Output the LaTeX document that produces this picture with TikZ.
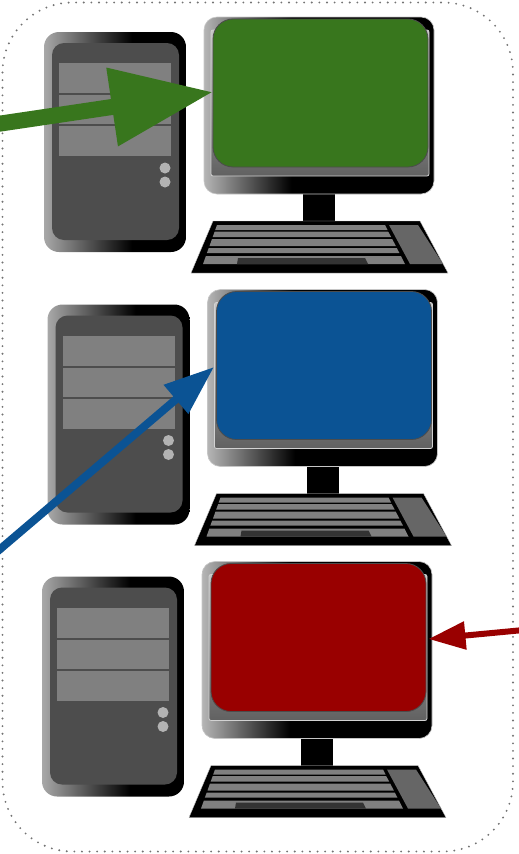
\documentclass[tikz,border=0pt]{standalone}
\usetikzlibrary{arrows.meta}

\definecolor{scrgreen}{HTML}{38761D}
\definecolor{scrblue}{HTML}{0B5394}
\definecolor{scrred}{HTML}{990000}
\definecolor{panel}{HTML}{4D4D4D}
\definecolor{bay}{HTML}{808080}
\definecolor{knob}{HTML}{B3B3B3}
\definecolor{padgray}{HTML}{666666}
\definecolor{spacegray}{HTML}{333333}

% tower case: light grey on the left fading to black
\pgfdeclarehorizontalshading{towershade}{100bp}{color(0bp)=(gray!68); color(25bp)=(gray!68); color(56bp)=(black); color(100bp)=(black)}
% monitor housing
\pgfdeclarehorizontalshading{monshade}{100bp}{color(0bp)=(gray!58); color(25bp)=(gray!58); color(44bp)=(black); color(100bp)=(black)}

\tikzset{
  towerbody/.style={shading=towershade, rounded corners=15pt},
  towerpanel/.style={fill=panel, rounded corners=12pt},
  drivebay/.style={fill=bay},
  powerknob/.style={fill=knob},
  monframe/.style={shading=monshade, draw=gray!45, line width=0.6pt, rounded corners=13pt},
  monbezel/.style={top color=gray!45, bottom color=black!62, draw=gray!35, line width=0.8pt, rounded corners=2pt},
  screen/.style={fill=#1, draw=gray!60!black, line width=0.8pt, rounded corners=20pt},
  keyrow/.style={fill=bay},
  bordr/.style={draw=black!55, line width=2.1pt, dash pattern=on 0pt off 7.6pt, line cap=round, rounded corners=70pt},
}

% one workstation: tower, monitor with coloured screen, keyboard
\newcommand\drawstation[3]{%
  \begin{scope}[shift={(#1,#2)}]
    % tower
    \shade[towerbody] (44,32) rectangle (186,252);
    \fill[towerpanel] (52,43) rectangle (179,240);
    \fill[drivebay] (59,63) rectangle (171,93);
    \fill[drivebay] (59,95) rectangle (171,124);
    \fill[drivebay] (59,126) rectangle (171,156);
    \fill[powerknob] (165,168) circle (5.5);
    \fill[powerknob] (165,182) circle (5.5);
    % monitor
    \fill[black] (303,190) rectangle (335,222);
    \shade[monframe] (204,17) rectangle (434,194);
    \shade[monbezel] (211,30) rectangle (429,176);
    \path[screen=#3] (213,19) rectangle (428,167);
    % keyboard
    \filldraw[fill=black, draw=gray!40, line width=0.4pt] (213,221) -- (420,221) -- (448,273) -- (191,273) -- cycle;
    \fill[keyrow] (217,225) -- (385,225) -- (387.6,230) -- (215.2,230) -- cycle;
    \fill[keyrow] (214.7,231.5) -- (388.1,231.5) -- (391.2,237) -- (212.7,237) -- cycle;
    \fill[keyrow] (212,239) -- (392.2,239) -- (395.8,246) -- (209.5,246) -- cycle;
    \fill[keyrow] (208.7,248) -- (396.8,248) -- (399.4,253) -- (206.9,253) -- cycle;
    \fill[keyrow] (205.9,256) -- (400.9,256) -- (405,264) -- (203,264) -- cycle;
    \fill[spacegray] (238,258) -- (365,258) -- (368,264) -- (237,264) -- cycle;
    \fill[padgray] (389,225) -- (418,225) -- (443,264) -- (410,264) -- cycle;
  \end{scope}}

\begin{document}
\begin{tikzpicture}[x=1pt, y=-1pt]
  \useasboundingbox (0,0) rectangle (519,854);
  \clip (0,0) rectangle (519,854);

  % dotted enclosure
  \path[bordr] (2.5,2.5) rectangle (513,851.5);

  % the three workstations
  \drawstation{0}{0}{scrgreen}
  \drawstation{3.5}{272.5}{scrblue}
  \drawstation{-2}{544.5}{scrred}

  % arrow end points
  \coordinate (g-tail) at (-10,125.1);
  \coordinate (g-tip)  at (213,92);
  \coordinate (b-tail) at (-10,557.7);
  \coordinate (b-tip)  at (214,367);
  \coordinate (r-tail) at (530,629.4);
  \coordinate (r-tip)  at (428.5,639);

  \draw[scrgreen, line width=16pt, -{Triangle[length=102pt, width=75pt]}] (g-tail) -- (g-tip);
  \draw[scrblue, line width=8pt, -{Triangle[length=50pt, width=36pt]}] (b-tail) -- (b-tip);
  \draw[scrred, line width=6pt, -{Triangle[length=37pt, width=27pt]}] (r-tail) -- (r-tip);
\end{tikzpicture}
\end{document}
